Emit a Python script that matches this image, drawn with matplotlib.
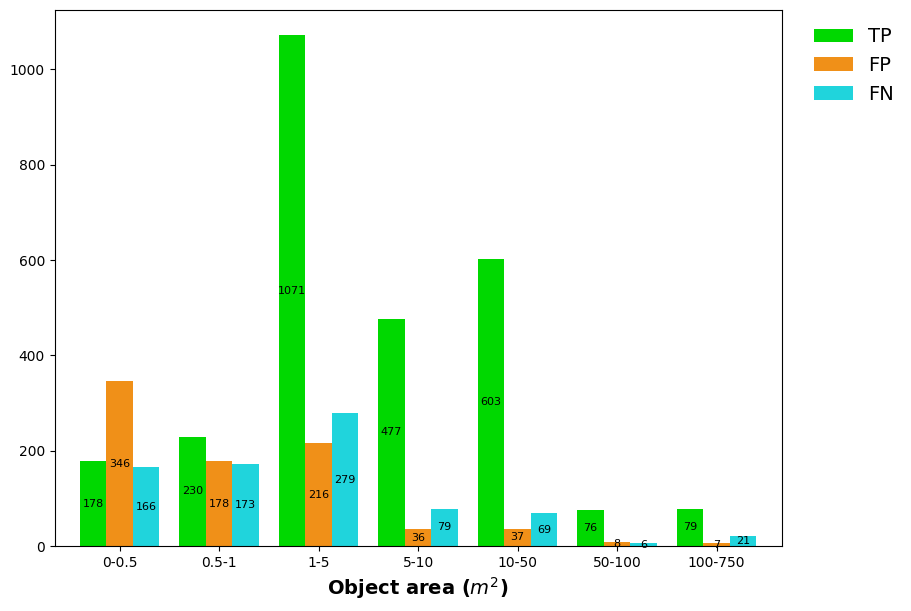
import numpy as np
import matplotlib
matplotlib.use('Agg')
import matplotlib.pyplot as plt

# area bins and counts
areas = ['0-0.5', '0.5-1', '1-5', '5-10', '10-50', '50-100', '100-750']
tp = [178, 230, 1071, 477, 603, 76, 79]
fp = [346, 178, 216, 36, 37, 8, 7]
fn = [166, 173, 279, 79, 69, 6, 21]

x = np.arange(len(areas))
w = 0.8 / 3

fig = plt.figure(figsize=(9.11, 6.11), dpi=100)
ax = fig.add_axes([0.060, 0.106, 0.798, 0.878])

b1 = ax.bar(x - w, tp, w, color='#00d800', label='TP')
b2 = ax.bar(x, fp, w, color='#f09018', label='FP')
b3 = ax.bar(x + w, fn, w, color='#20d4dc', label='FN')
for b in (b1, b2, b3):
    ax.bar_label(b, label_type='center', fontsize=8)

ax.set_xticks(x)
ax.set_xticklabels(areas)
ax.set_xlim(-0.653, len(areas) - 1 + 0.653)
ax.set_xlabel('Object area ($m^2$)', fontsize=14, fontweight='bold')
ax.legend(loc='upper left', bbox_to_anchor=(1.02, 1.0), frameon=False, fontsize=14)

plt.savefig('out.png', dpi=100)
